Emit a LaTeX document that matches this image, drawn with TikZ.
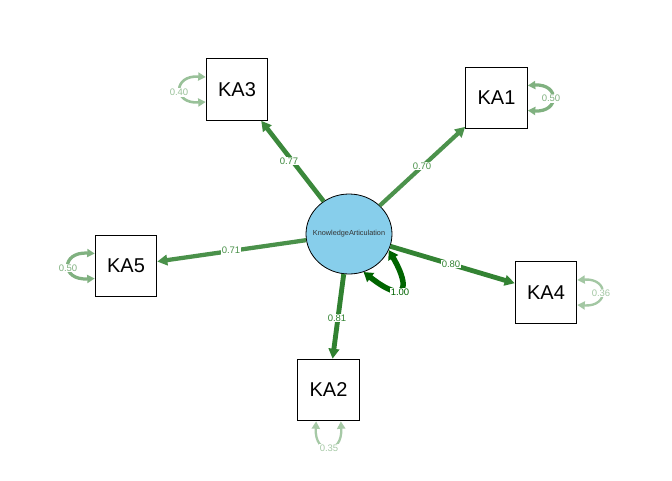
\documentclass[tikz,border=0pt]{standalone}
\usepackage{fontspec}
\setmainfont{Liberation Sans}
\usetikzlibrary{arrows.meta,shapes.geometric,calc}
\definecolor{dkgreen}{RGB}{0,100,0}
\definecolor{latfill}{RGB}{135,206,235}
\newcommand\kafont{\fontsize{20}{24}\selectfont}
\newcommand\labfont{\fontsize{9.5}{11}\selectfont}
\newcommand\latfont{\fontsize{7.3}{8}\selectfont}
\tikzset{
  ldedge/.style={draw=dkgreen!#1!white, line width=#1*0.06pt,
    -{Triangle[length=10pt,width=10.5pt]}},
  elab/.style={fill=white, inner sep=1pt, text=dkgreen!#1!white, font=\labfont},
  resloop/.style={draw=dkgreen!#1!white, line width=#1*0.065pt,
    {Triangle[length=7.5pt,width=8pt]}-{Triangle[length=7.5pt,width=8pt]}},
  latloop/.style={draw=dkgreen, line width=5.5pt,
    {Triangle[length=9pt,width=11pt]}-{Triangle[length=9pt,width=11pt]}},
  mbox/.style={draw, line width=1.1pt, minimum size=61.5pt, inner sep=0pt, font=\kafont},
  latnode/.style={ellipse, draw, line width=0.8pt, fill=latfill, minimum width=86pt,
    minimum height=80pt, inner sep=0pt, font=\latfont, text=black!80},
}
\begin{document}
\begin{tikzpicture}[x=1pt,y=-1pt]
\useasboundingbox[fill=white] (0,0) rectangle (672,480);
% nodes
\node[latnode] (lat) at (349,234) {\makebox[0pt]{KnowledgeArticulation}};
\node[mbox] (ka3) at (237,89.5) {KA3};
\node[mbox] (ka1) at (496.5,98) {KA1};
\node[mbox] (ka5) at (126,266) {KA5};
\node[mbox] (ka4) at (546,292.5) {KA4};
\node[mbox] (ka2) at (328.5,390) {KA2};
% loadings
\draw[ldedge=77] (lat) -- (ka3);
\draw[ldedge=70] (lat) -- (ka1);
\draw[ldedge=71] (lat) -- (ka5);
\draw[ldedge=80] (lat) -- (ka4);
\draw[ldedge=81] (lat) -- (ka2);
\node[elab=77] (l3) at (289,161) {0.77};
\node[elab=70] (l1) at (422,166) {0.70};
\node[elab=71] (l5) at (231,250.5) {0.71};
\node[elab=80] (l4) at (451,264) {0.80};
\node[elab=81] (l2) at (337,318) {0.81};
% residual loops
\draw[resloop=40] ($(ka3.west)+(0,-12.5)$) .. controls +(-33,-2) and +(-33,2) .. ($(ka3.west)+(0,12.5)$);
\draw[resloop=50] ($(ka1.east)+(0,-12.5)$) .. controls +(32,-2) and +(32,2) .. ($(ka1.east)+(0,12.5)$);
\draw[resloop=50] ($(ka5.west)+(0,-12.5)$) .. controls +(-34,-2) and +(-34,2) .. ($(ka5.west)+(0,12.5)$);
\draw[resloop=36] ($(ka4.east)+(0,-12.5)$) .. controls +(32,-2) and +(32,2) .. ($(ka4.east)+(0,12.5)$);
\draw[resloop=35] ($(ka2.south)+(-12.3,0)$) .. controls +(-2,34) and +(2,34) .. ($(ka2.south)+(12.3,0)$);
\node[elab=40] (r3) at (179,92.5) {0.40};
\node[elab=50] (r1) at (551,98.5) {0.50};
\node[elab=50] (r5) at (68,268) {0.50};
\node[elab=36] (r4) at (601,293) {0.36};
\node[elab=35] (r2) at (329,448.5) {0.35};
% latent variance
\draw[latloop] (lat.-22) .. controls +(23,40) and +(41,32) .. (lat.-69);
\node[elab=100] (rl) at (400,292) {1.00};
\end{tikzpicture}
\end{document}
